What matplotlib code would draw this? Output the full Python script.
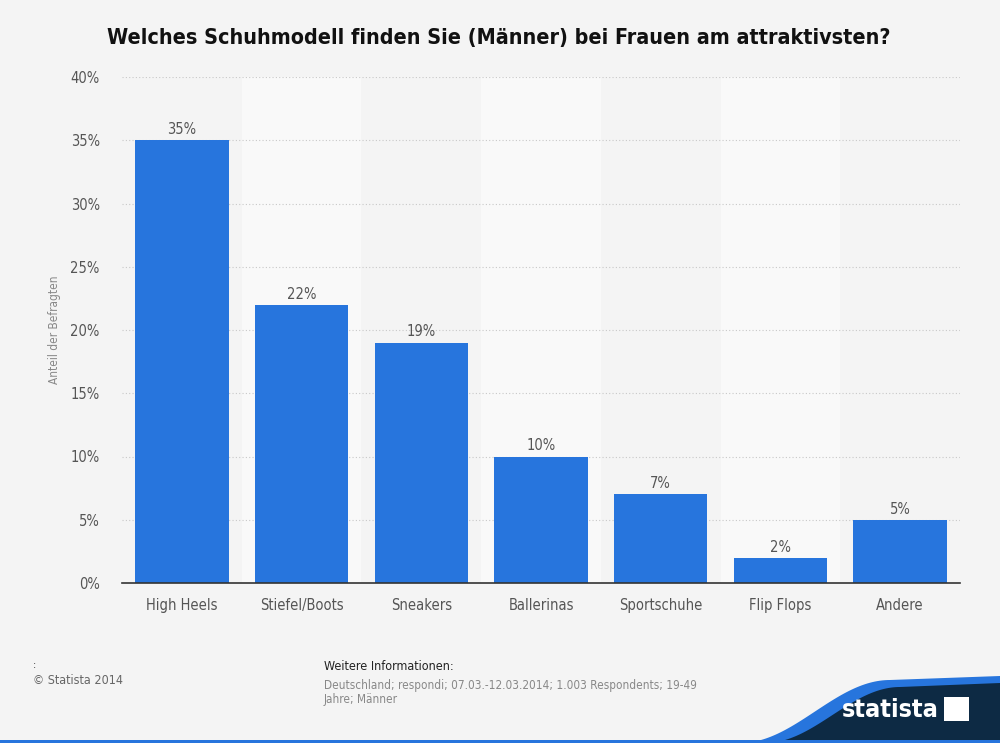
import numpy as np
import matplotlib
matplotlib.use("Agg")
import matplotlib.pyplot as plt
from matplotlib.patches import Polygon, Rectangle

# data
categories = ["High Heels", "Stiefel/Boots", "Sneakers", "Ballerinas",
              "Sportschuhe", "Flip Flops", "Andere"]
values = [35, 22, 19, 10, 7, 2, 5]
yticks = [0, 5, 10, 15, 20, 25, 30, 35, 40]

plt.rcParams['font.family'] = ['DejaVu Sans']
plt.rcParams['font.stretch'] = 'condensed'

bg = '#f4f4f4'
bar_color = '#2775dd'
text_gray = '#555555'

fig = plt.figure(figsize=(10, 7.43), dpi=100, facecolor=bg)
W, H = 1000, 743
# axes placed in pixel coordinates
left, right, top, bottom = 122, 960, 77, 583
ax = fig.add_axes([left / W, 1 - bottom / H, (right - left) / W, (bottom - top) / H])
ax.set_facecolor(bg)

x = np.arange(len(categories))
ax.set_xlim(-0.5, len(categories) - 0.5)
ax.set_ylim(0, 40)

# alternating column bands
for i in x:
    if i % 2 == 1:
        ax.axvspan(i - 0.5, i + 0.5, color='#f9f9f9', zorder=0, lw=0)

for y in yticks[1:]:
    ax.axhline(y, color='#c8c8c8', lw=0.8, ls=(0, (1, 2)), zorder=1)

bars = ax.bar(x, values, width=0.78, color=bar_color, zorder=2)
for xi, v in zip(x, values):
    ax.text(xi, v + 0.25, f"{v}%", ha='center', va='bottom', fontsize=10.5,
            color=text_gray)

ax.set_xticks(x)
ax.set_xticklabels(categories, fontsize=10.5, color=text_gray)
ax.set_yticks(yticks)
ax.set_yticklabels([f"{t}%" for t in yticks], fontsize=10.5, color=text_gray)
ax.tick_params(axis='both', length=0)
ax.tick_params(axis='x', pad=11)
ax.tick_params(axis='y', pad=16)
for s in ['top', 'right', 'left']:
    ax.spines[s].set_visible(False)
ax.spines['bottom'].set_color('#333333')
ax.spines['bottom'].set_linewidth(1.2)
ax.set_ylabel("Anteil der Befragten", fontsize=8.5, color='#888888', labelpad=7)

fig.text(499 / W, 1 - 38 / H, "Welches Schuhmodell finden Sie (Männer) bei Frauen am attraktivsten?",
         ha='center', va='center', fontsize=15.4, fontweight='bold', color='#111111')

# footer
fig.text(33 / W, 1 - 665 / H, ":", fontsize=8, color='#333333', va='center')
fig.text(33 / W, 1 - 681 / H, "© Statista 2014", fontsize=9, color='#666666', va='center')
fig.text(324 / W, 1 - 667 / H, "Weitere Informationen:", fontsize=9, color='#222222', va='center')
fig.text(324 / W, 1 - 685 / H, "Deutschland; respondi; 07.03.-12.03.2014; 1.003 Respondents; 19-49",
         fontsize=8.5, color='#888888', va='center')
fig.text(324 / W, 1 - 700 / H, "Jahre; Männer", fontsize=8.5, color='#888888', va='center')

# logo band
t = np.linspace(0, 1, 60)
xs = 740 + 150 * t
ys_curve = 743 - (743 - 680) * (0.5 - 0.5 * np.cos(np.pi * t))
blue_pts = [(px / W, 1 - py / H) for px, py in zip(xs, ys_curve)]
blue_pts += [(1, 1 - 676 / H), (1, 0), (740 / W, 0)]
fig.patches.append(Polygon(blue_pts, closed=True, transform=fig.transFigure,
                           facecolor='#2775dd', edgecolor='none'))
xs2 = 765 + 135 * t
ys2 = 743 - (743 - 687) * (0.5 - 0.5 * np.cos(np.pi * t))
navy_pts = [(px / W, 1 - py / H) for px, py in zip(xs2, ys2)]
navy_pts += [(1, 1 - 683 / H), (1, 0), (765 / W, 0)]
fig.patches.append(Polygon(navy_pts, closed=True, transform=fig.transFigure,
                           facecolor='#0d2a44', edgecolor='none'))
fig.patches.append(Rectangle((0, 0), 1, 3 / H, transform=fig.transFigure,
                             facecolor='#2775dd', edgecolor='none'))
fig.text(890 / W, 1 - 710 / H, "statista", fontsize=18, fontweight='bold',
         color='white', ha='center', va='center')
fig.patches.append(Rectangle((944 / W, 1 - 721 / H), 25 / W, 24 / H,
                             transform=fig.transFigure, facecolor='white', edgecolor='none'))

fig.savefig("out.png", dpi=100, facecolor=bg)
